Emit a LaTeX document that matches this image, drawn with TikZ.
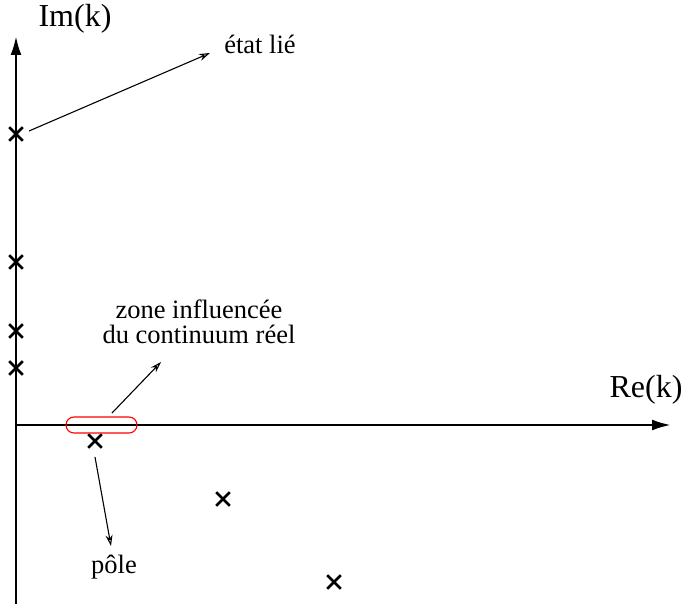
\documentclass[tikz,border=0pt]{standalone}
\usepackage{fontspec}
\setmainfont{Liberation Serif}
\usetikzlibrary{arrows.meta,shapes.misc}
\begin{document}
\begin{tikzpicture}[x=1pt,y=-1pt,
  axis/.style={line width=2.5pt,-{Latex[length=19pt,width=11pt]}},
  polemark/.style={cross out,draw,line width=2.6pt,minimum size=11pt,inner sep=0pt},
  pointer/.style={line width=1.1pt,-{Stealth[open,length=11pt,width=7pt]}},
  biglabel/.style={font=\fontsize{32}{34}\selectfont,anchor=base,inner sep=0pt},
  smalllabel/.style={font=\fontsize{26.5}{25}\selectfont,inner sep=0pt}]
\useasboundingbox (0,0) rectangle (683,610);
% axes
\coordinate (o) at (16,425);
\coordinate (ytop) at (16,36);
\coordinate (ybot) at (16,604);
\coordinate (xend) at (671,425);
\draw[line width=2.5pt] (ybot) -- (o);
\draw[axis] (o) -- (ytop);
\draw[axis] (o) -- (xend);
% labels
\node[biglabel] (im) at (75,27) {Im(k)};
\node[biglabel] (re) at (646,397) {Re(k)};
\node[smalllabel,anchor=base] (etat) at (260,54) {état lié};
\node[smalllabel,align=center] (zone) at (199,322) {zone influencée\\du continuum réel};
\node[smalllabel,anchor=base] (pole) at (114,573) {pôle};
% poles
\node[polemark] (p1) at (16,134) {};
\node[polemark] (p2) at (16,262) {};
\node[polemark] (p3) at (16,331) {};
\node[polemark] (p4) at (16,368) {};
\node[polemark] (p5) at (95,441) {};
\node[polemark] (p6) at (223,499) {};
\node[polemark] (p7) at (334,582) {};
% red zone
\node[draw=red,line width=1.1pt,rounded corners=8pt,minimum width=71pt,minimum height=16pt,inner sep=0pt] (rz) at (101.5,425) {};
% pointers
\coordinate (a1s) at (29,131);
\coordinate (a1e) at (210,53);
\draw[pointer] (a1s) -- (a1e);
\coordinate (a2s) at (112,413);
\coordinate (a2e) at (161,362);
\draw[pointer] (a2s) -- (a2e);
\coordinate (a3s) at (95,457);
\coordinate (a3e) at (111,546);
\draw[pointer] (a3s) -- (a3e);
\end{tikzpicture}
\end{document}
